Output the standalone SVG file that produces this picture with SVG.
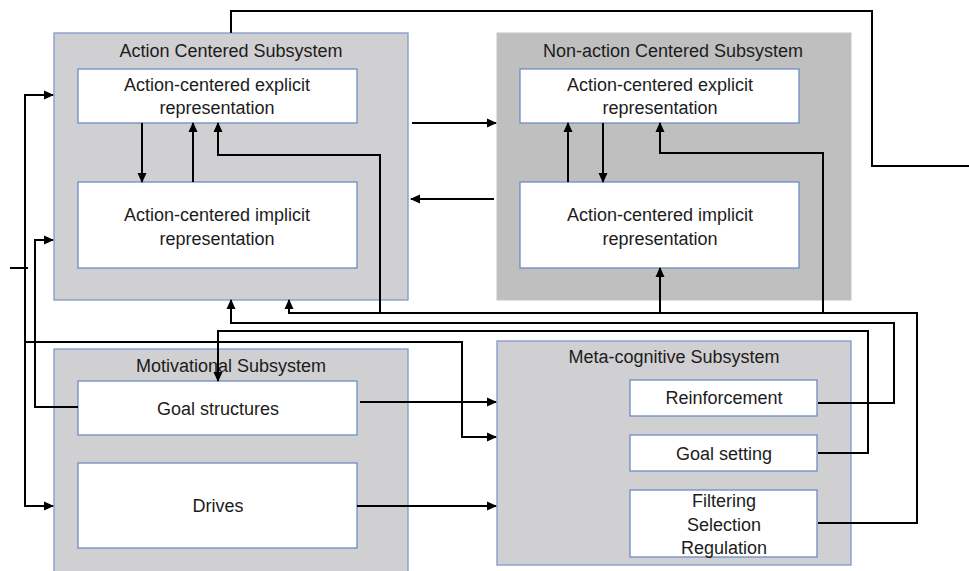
<svg xmlns="http://www.w3.org/2000/svg" width="969" height="571" viewBox="0 0 969 571">
<style>
.sub{fill:#d0cfd1;stroke:#7f9acb;stroke-width:1.3}
.sub2{fill:#bfbfbf;stroke:#c4c4c4;stroke-width:1}
.in{fill:#ffffff;stroke:#6d8cc4;stroke-width:1.3}
text{font-family:"Liberation Sans",Arial,sans-serif;font-size:18px;fill:#1c1c1c;text-anchor:middle}
.c{fill:none;stroke:#000;stroke-width:2}
.a{marker-end:url(#ah)}
</style>
<defs>
<marker id="ah" markerUnits="userSpaceOnUse" markerWidth="10" markerHeight="10" viewBox="0 0 10 10" refX="9" refY="5" orient="auto">
<path d="M0,0.5 L10,5 L0,9.5 z" fill="#000"/>
</marker>
</defs>
<g id="action-centered">
<rect class="sub" x="54" y="33" width="354" height="267"/>
<text x="231" y="57">Action Centered Subsystem</text>
<g id="acs-explicit"><rect class="in" x="78" y="69" width="279" height="54"/>
<text x="217" y="91">Action-centered explicit</text><text x="217" y="114">representation</text></g>
<g id="acs-implicit"><rect class="in" x="78" y="182" width="279" height="86"/>
<text x="217" y="221">Action-centered implicit</text><text x="217" y="245">representation</text></g>
</g>
<g id="non-action-centered">
<rect class="sub2" x="497" y="33" width="354" height="267"/>
<text x="673" y="57">Non-action Centered Subsystem</text>
<g id="nacs-explicit"><rect class="in" x="520" y="69" width="279" height="54"/>
<text x="660" y="91">Action-centered explicit</text><text x="660" y="114">representation</text></g>
<g id="nacs-implicit"><rect class="in" x="520" y="182" width="279" height="86"/>
<text x="660" y="221">Action-centered implicit</text><text x="660" y="245">representation</text></g>
</g>
<g id="motivational">
<rect class="sub" x="54" y="349" width="354" height="230"/>
<text x="231" y="372">Motivational Subsystem</text>
<g id="goal-structures"><rect class="in" x="78" y="381" width="279" height="54"/>
<text x="218" y="415">Goal structures</text></g>
<g id="drives"><rect class="in" x="78" y="463" width="279" height="85"/>
<text x="218" y="512">Drives</text></g>
</g>
<g id="meta-cognitive">
<rect class="sub" x="497" y="341" width="354" height="224"/>
<text x="674" y="363">Meta-cognitive Subsystem</text>
<g id="reinforcement"><rect class="in" x="630" y="380" width="187" height="36"/>
<text x="724" y="404">Reinforcement</text></g>
<g id="goal-setting"><rect class="in" x="630" y="435" width="187" height="36"/>
<text x="724" y="460">Goal setting</text></g>
<g id="filtering"><rect class="in" x="630" y="490" width="187" height="67"/>
<text x="724" y="507">Filtering</text><text x="724" y="531">Selection</text><text x="724" y="554">Regulation</text></g>
</g>
<g id="connectors">
<path class="c" d="M231,33 V11 H872 V166 H969"/>
<path class="c" d="M25,95 V506"/>
<path class="c a" d="M24,95 H53"/>
<path class="c a" d="M24,506 H53"/>
<path class="c a" d="M25,342 H462 V437 H496"/>
<path class="c" d="M10,268 H28"/>
<path class="c a" d="M78,407 H35 V240 H53"/>
<path class="c a" d="M412,123 H496"/>
<path class="c a" d="M494,199 H411"/>
<path class="c a" d="M142,123 V182"/>
<path class="c a" d="M193,182 V123"/>
<path class="c a" d="M568,182 V123"/>
<path class="c a" d="M603,123 V182"/>
<path class="c a" d="M818,523 H917 V313 H289 V300"/>
<path class="c a" d="M660,313 V268"/>
<path class="c a" d="M380,313 V155 H218 V123"/>
<path class="c a" d="M823,313 V153 H660 V123"/>
<path class="c a" d="M818,403 H894 V323 H231 V300"/>
<path class="c a" d="M818,453 H868 V331 H218 V381"/>
<path class="c a" d="M360,402 H496"/>
<path class="c a" d="M357,506 H496"/>
</g>
</svg>
